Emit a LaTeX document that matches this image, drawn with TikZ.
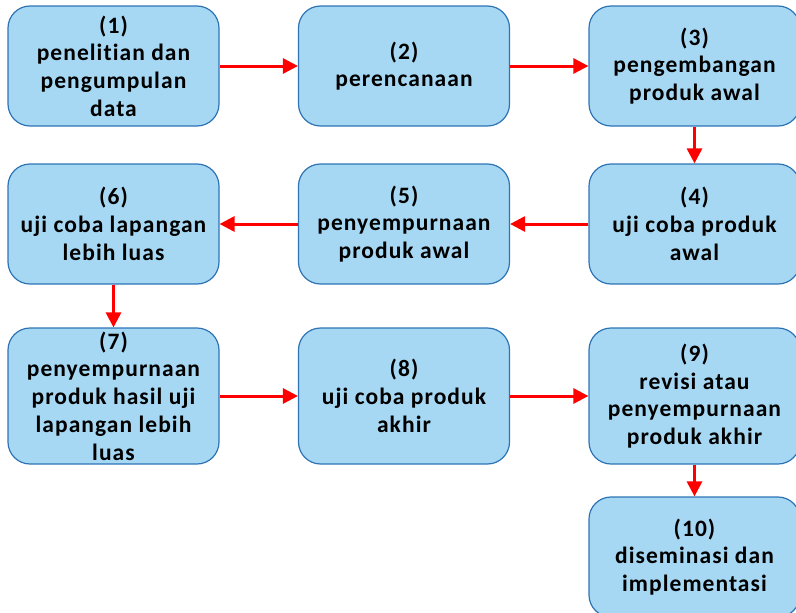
\documentclass[tikz,border=0pt]{standalone}
\usepackage{fontspec}
\setmainfont{Carlito}[LetterSpace=4.5,Ligatures=NoCommon]
\usetikzlibrary{arrows.meta}
\definecolor{boxfill}{HTML}{A6D8F3}
\definecolor{boxline}{HTML}{2E74B5}
\definecolor{flowred}{HTML}{FF0000}
\begin{document}
\begin{tikzpicture}[x=1pt,y=-1pt,
  stage/.style={draw=boxline, fill=boxfill, line width=1.2pt, rounded corners=22pt,
    minimum width=211pt, minimum height=120pt, align=center, inner sep=0pt,
    font=\bfseries\fontsize{23.5}{27.7}\selectfont},
  tall/.style={minimum height=136pt},
  flow/.style={draw=flowred, line width=3pt, -{Triangle[length=15pt,width=15pt]}}]
\useasboundingbox (0,0) rectangle (796,613);

% row 1
\node[stage] (s1) at (113.5,66) {(1)\\penelitian dan\\pengumpulan\\data};
\node[stage] (s2) at (404,66) {(2)\\perencanaan};
\node[stage] (s3) at (694.5,66) {(3)\\pengembangan\\produk awal};
% row 2
\node[stage] (s4) at (694.5,224) {(4)\\uji coba produk\\awal};
\node[stage] (s5) at (404,224) {(5)\\penyempurnaan\\produk awal};
\node[stage] (s6) at (113.5,224) {(6)\\uji coba lapangan\\lebih luas};
% row 3
\node[stage,tall] (s7) at (113.5,396) {(7)\\penyempurnaan\\produk hasil uji\\lapangan lebih\\luas};
\node[stage,tall] (s8) at (404,396) {(8)\\uji coba produk\\akhir};
\node[stage,tall] (s9) at (694.5,396) {(9)\\revisi atau\\penyempurnaan\\produk akhir};
% final step
\node[stage] (s10) at (694.5,557) {(10)\\diseminasi dan\\implementasi};

% connectors
\draw[flow] (s1) -- (s2);
\draw[flow] (s2) -- (s3);
\draw[flow] (s3) -- (s4);
\draw[flow] (s4) -- (s5);
\draw[flow] (s5) -- (s6);
\draw[flow] (s6) -- (s7);
\draw[flow] (s7) -- (s8);
\draw[flow] (s8) -- (s9);
\draw[flow] (s9) -- (s10);
\end{tikzpicture}
\end{document}
